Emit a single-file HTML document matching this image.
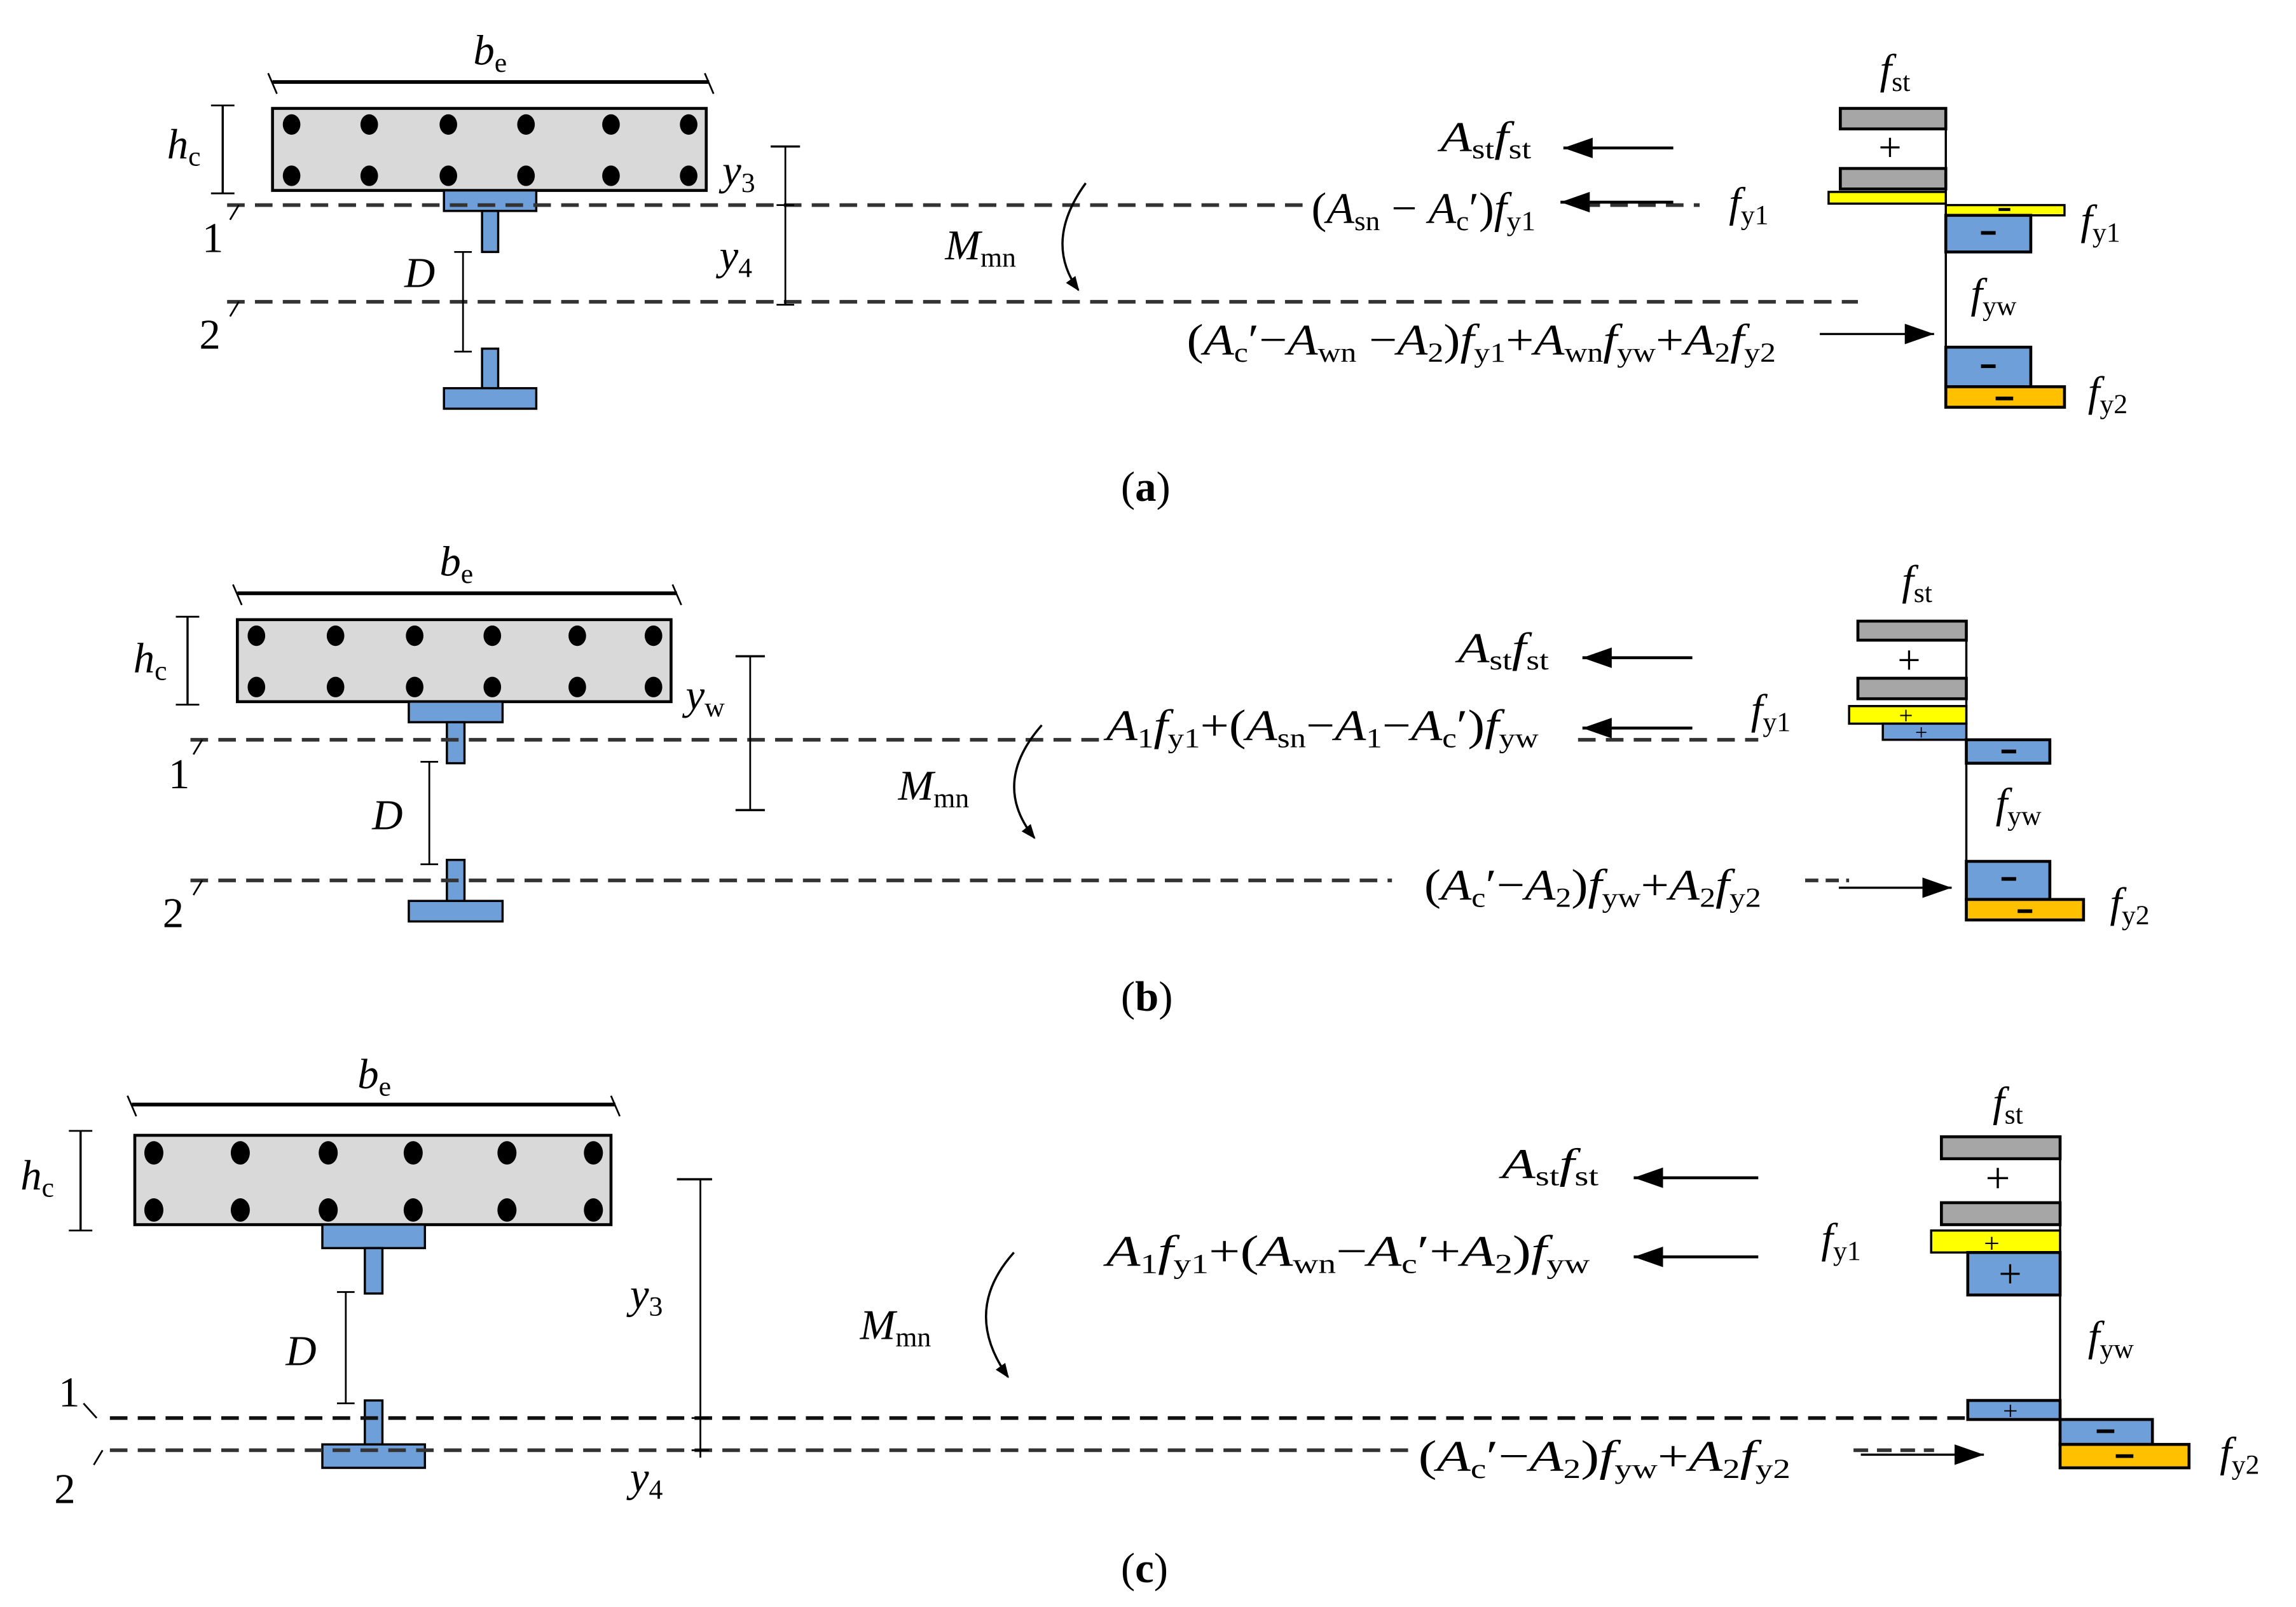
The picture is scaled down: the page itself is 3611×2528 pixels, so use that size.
<!DOCTYPE html>
<html><head><meta charset="utf-8"><style>
html,body{margin:0;padding:0;background:#fff;}
svg{display:block;}
text{font-family:"Liberation Serif",serif;font-style:italic;fill:#000;}
.s{font-style:normal;font-size:19px;}
.n{font-style:normal;}
</style></head><body>
<svg width="3611" height="2528" viewBox="0 0 1567 1097" preserveAspectRatio="none" xmlns="http://www.w3.org/2000/svg">
<defs>
<marker id="ar" markerWidth="10" markerHeight="8" refX="9" refY="4" orient="auto" markerUnits="userSpaceOnUse"><path d="M0,0 L10,4 L0,8 Z" fill="#000"/></marker>
<marker id="ar2" markerWidth="22" markerHeight="14" refX="20" refY="7" orient="auto" markerUnits="userSpaceOnUse"><path d="M0,0 L20,7 L0,14 Z" fill="#000"/></marker>
</defs>
<g font-size="29">

<!-- ================= (a) ================= -->
<line x1="186" y1="56" x2="484" y2="56" stroke="#000" stroke-width="2.5"/>
<line x1="183" y1="50" x2="189" y2="64" stroke="#000" stroke-width="1.2"/>
<line x1="481" y1="50" x2="487" y2="64" stroke="#000" stroke-width="1.2"/>
<text x="323" y="44">b<tspan class="s" dy="5">e</tspan></text>
<rect x="186" y="74" width="296" height="56" fill="#d9d9d9" stroke="#000" stroke-width="2"/>
<g fill="#000">
<ellipse cx="199" cy="85" rx="6" ry="7"/><ellipse cx="252" cy="85" rx="6" ry="7"/><ellipse cx="306" cy="85" rx="6" ry="7"/><ellipse cx="359" cy="85" rx="6" ry="7"/><ellipse cx="417" cy="85" rx="6" ry="7"/><ellipse cx="470" cy="85" rx="6" ry="7"/>
<ellipse cx="199" cy="120" rx="6" ry="7"/><ellipse cx="252" cy="120" rx="6" ry="7"/><ellipse cx="306" cy="120" rx="6" ry="7"/><ellipse cx="359" cy="120" rx="6" ry="7"/><ellipse cx="417" cy="120" rx="6" ry="7"/><ellipse cx="470" cy="120" rx="6" ry="7"/>
</g>
<line x1="152" y1="72" x2="152" y2="132" stroke="#000" stroke-width="1.5"/>
<line x1="144" y1="72" x2="160" y2="72" stroke="#000" stroke-width="1.2"/><line x1="144" y1="132" x2="160" y2="132" stroke="#000" stroke-width="1.2"/>
<text x="114" y="108">h<tspan class="s" dy="5">c</tspan></text>
<rect x="303" y="130" width="63" height="14" fill="#6f9fd8" stroke="#000" stroke-width="1.5"/>
<rect x="329" y="144" width="11" height="28" fill="#6f9fd8" stroke="#000" stroke-width="1.5"/>
<line x1="155" y1="140" x2="890" y2="140" stroke="#333" stroke-width="2.5" stroke-dasharray="12,7"/>
<line x1="1080" y1="140" x2="1160" y2="140" stroke="#333" stroke-width="2.5" stroke-dasharray="12,7"/>
<line x1="163" y1="140" x2="157" y2="150" stroke="#000" stroke-width="1.2"/>
<text x="138" y="172" class="n">1</text>
<line x1="155" y1="206" x2="1268" y2="206" stroke="#333" stroke-width="2.5" stroke-dasharray="12,7"/>
<line x1="163" y1="206" x2="157" y2="216" stroke="#000" stroke-width="1.2"/>
<text x="136" y="238" class="n">2</text>
<line x1="316" y1="172" x2="316" y2="240" stroke="#000" stroke-width="1.2"/>
<line x1="310" y1="172" x2="322" y2="172" stroke="#000" stroke-width="1.2"/><line x1="310" y1="240" x2="322" y2="240" stroke="#000" stroke-width="1.2"/>
<text x="276" y="196">D</text>
<rect x="329" y="238" width="11" height="27" fill="#6f9fd8" stroke="#000" stroke-width="1.5"/>
<rect x="303" y="265" width="63" height="14" fill="#6f9fd8" stroke="#000" stroke-width="1.5"/>
<line x1="536" y1="100" x2="536" y2="208" stroke="#000" stroke-width="1.2"/>
<line x1="526" y1="100" x2="546" y2="100" stroke="#000" stroke-width="1.5"/>
<line x1="530" y1="140" x2="542" y2="140" stroke="#000" stroke-width="1.2"/>
<line x1="530" y1="208" x2="542" y2="208" stroke="#000" stroke-width="1.2"/>
<text x="493" y="126">y<tspan class="s" dy="5">3</tspan></text>
<text x="491" y="184">y<tspan class="s" dy="5">4</tspan></text>
<text x="645" y="177">M<tspan class="s" dy="5">mn</tspan></text>
<path d="M741,125 Q712,165 736,198" fill="none" stroke="#000" stroke-width="1.5" marker-end="url(#ar)"/>
<text x="983" y="103" textLength="62" lengthAdjust="spacingAndGlyphs">A<tspan class="s" dy="5">st</tspan><tspan dy="-5">f</tspan><tspan class="s" dy="5">st</tspan></text>
<line x1="1142" y1="101" x2="1067" y2="101" stroke="#000" stroke-width="2" marker-end="url(#ar2)"/>
<text x="895" y="152" font-size="30" textLength="153" lengthAdjust="spacingAndGlyphs"><tspan class="n">(</tspan>A<tspan class="s" dy="5">sn</tspan><tspan class="n" dy="-5"> − </tspan>A<tspan class="s" dy="5">c</tspan><tspan class="n" dy="-5">′)</tspan>f<tspan class="s" dy="5">y1</tspan></text>
<line x1="1142" y1="138" x2="1065" y2="138" stroke="#000" stroke-width="2" marker-end="url(#ar2)"/>
<text x="1180" y="148">f<tspan class="s" dy="5">y1</tspan></text>
<text x="810" y="242" font-size="30" textLength="402" lengthAdjust="spacingAndGlyphs"><tspan class="n">(</tspan>A<tspan class="s" dy="5">c</tspan><tspan class="n" dy="-5">′−</tspan>A<tspan class="s" dy="5">wn</tspan><tspan class="n" dy="-5"> −</tspan>A<tspan class="s" dy="5">2</tspan><tspan class="n" dy="-5">)</tspan>f<tspan class="s" dy="5">y1</tspan><tspan class="n" dy="-5">+</tspan>A<tspan class="s" dy="5">wn</tspan><tspan dy="-5">f</tspan><tspan class="s" dy="5">yw</tspan><tspan class="n" dy="-5">+</tspan>A<tspan class="s" dy="5">2</tspan><tspan dy="-5">f</tspan><tspan class="s" dy="5">y2</tspan></text>
<line x1="1242" y1="228" x2="1320" y2="228" stroke="#000" stroke-width="1.5" marker-end="url(#ar2)"/>
<line x1="1328" y1="74" x2="1328" y2="278" stroke="#000" stroke-width="1.5"/>
<rect x="1256" y="74" width="72" height="14" fill="#a6a6a6" stroke="#000" stroke-width="2"/>
<rect x="1256" y="115" width="72" height="14" fill="#a6a6a6" stroke="#000" stroke-width="2"/>
<text x="1282" y="110" class="n" font-size="28">+</text>
<rect x="1248" y="131" width="80" height="8" fill="#ffff00" stroke="#000" stroke-width="1.5"/>
<rect x="1328" y="140" width="81" height="7" fill="#ffff00" stroke="#000" stroke-width="1.5"/>
<rect x="1328" y="147" width="58" height="25" fill="#6f9fd8" stroke="#000" stroke-width="2"/>
<line x1="1352" y1="159" x2="1362" y2="159" stroke="#000" stroke-width="2.5"/>
<line x1="1364" y1="143" x2="1372" y2="143" stroke="#000" stroke-width="2"/>
<text x="1283" y="57">f<tspan class="s" dy="5">st</tspan></text>
<text x="1420" y="160">f<tspan class="s" dy="5">y1</tspan></text>
<text x="1345" y="210">f<tspan class="s" dy="5">yw</tspan></text>
<rect x="1328" y="237" width="58" height="27" fill="#6f9fd8" stroke="#000" stroke-width="2"/>
<line x1="1352" y1="250" x2="1362" y2="250" stroke="#000" stroke-width="2.5"/>
<rect x="1328" y="264" width="81" height="14" fill="#ffc000" stroke="#000" stroke-width="2"/>
<line x1="1362" y1="272" x2="1374" y2="272" stroke="#000" stroke-width="2.5"/>
<text x="1425" y="277">f<tspan class="s" dy="5">y2</tspan></text>
<text x="765" y="342" class="n">(<tspan font-weight="bold">a</tspan>)</text>

<!-- ================= (b) ================= -->
<line x1="162" y1="405" x2="462" y2="405" stroke="#000" stroke-width="2.5"/>
<line x1="159" y1="399" x2="165" y2="413" stroke="#000" stroke-width="1.2"/>
<line x1="459" y1="399" x2="465" y2="413" stroke="#000" stroke-width="1.2"/>
<text x="300" y="393">b<tspan class="s" dy="5">e</tspan></text>
<rect x="162" y="423" width="296" height="56" fill="#d9d9d9" stroke="#000" stroke-width="2"/>
<g fill="#000">
<ellipse cx="175" cy="434" rx="6" ry="7"/><ellipse cx="229" cy="434" rx="6" ry="7"/><ellipse cx="283" cy="434" rx="6" ry="7"/><ellipse cx="336" cy="434" rx="6" ry="7"/><ellipse cx="394" cy="434" rx="6" ry="7"/><ellipse cx="446" cy="434" rx="6" ry="7"/>
<ellipse cx="175" cy="469" rx="6" ry="7"/><ellipse cx="229" cy="469" rx="6" ry="7"/><ellipse cx="283" cy="469" rx="6" ry="7"/><ellipse cx="336" cy="469" rx="6" ry="7"/><ellipse cx="394" cy="469" rx="6" ry="7"/><ellipse cx="446" cy="469" rx="6" ry="7"/>
</g>
<line x1="128" y1="421" x2="128" y2="481" stroke="#000" stroke-width="1.5"/>
<line x1="120" y1="421" x2="136" y2="421" stroke="#000" stroke-width="1.2"/><line x1="120" y1="481" x2="136" y2="481" stroke="#000" stroke-width="1.2"/>
<text x="91" y="459">h<tspan class="s" dy="5">c</tspan></text>
<rect x="279" y="479" width="64" height="14" fill="#6f9fd8" stroke="#000" stroke-width="1.5"/>
<rect x="305" y="493" width="12" height="28" fill="#6f9fd8" stroke="#000" stroke-width="1.5"/>
<line x1="130" y1="505" x2="752" y2="505" stroke="#333" stroke-width="2.5" stroke-dasharray="12,7"/>
<line x1="1077" y1="505" x2="1200" y2="505" stroke="#333" stroke-width="2.5" stroke-dasharray="12,7"/>
<line x1="138" y1="505" x2="132" y2="515" stroke="#000" stroke-width="1.2"/>
<text x="115" y="538" class="n">1</text>
<line x1="293" y1="520" x2="293" y2="590" stroke="#000" stroke-width="1.2"/>
<line x1="287" y1="520" x2="299" y2="520" stroke="#000" stroke-width="1.2"/><line x1="287" y1="590" x2="299" y2="590" stroke="#000" stroke-width="1.2"/>
<text x="254" y="566">D</text>
<rect x="305" y="587" width="12" height="28" fill="#6f9fd8" stroke="#000" stroke-width="1.5"/>
<rect x="279" y="615" width="64" height="14" fill="#6f9fd8" stroke="#000" stroke-width="1.5"/>
<line x1="130" y1="601" x2="950" y2="601" stroke="#333" stroke-width="2.5" stroke-dasharray="12,7"/>
<line x1="1232" y1="601" x2="1262" y2="601" stroke="#333" stroke-width="2.5" stroke-dasharray="9,5"/>
<line x1="138" y1="601" x2="132" y2="611" stroke="#000" stroke-width="1.2"/>
<text x="111" y="633" class="n">2</text>
<line x1="512" y1="448" x2="512" y2="553" stroke="#000" stroke-width="1.2"/>
<line x1="502" y1="448" x2="522" y2="448" stroke="#000" stroke-width="1.5"/>
<line x1="502" y1="553" x2="522" y2="553" stroke="#000" stroke-width="1.5"/>
<text x="468" y="484">y<tspan class="s" dy="5">w</tspan></text>
<text x="613" y="546">M<tspan class="s" dy="5">mn</tspan></text>
<path d="M711,495 Q676,535 706,572" fill="none" stroke="#000" stroke-width="1.5" marker-end="url(#ar)"/>
<text x="995" y="452" textLength="62" lengthAdjust="spacingAndGlyphs">A<tspan class="s" dy="5">st</tspan><tspan dy="-5">f</tspan><tspan class="s" dy="5">st</tspan></text>
<line x1="1155" y1="449" x2="1080" y2="449" stroke="#000" stroke-width="2" marker-end="url(#ar2)"/>
<text x="755" y="505" font-size="30" textLength="295" lengthAdjust="spacingAndGlyphs">A<tspan class="s" dy="5">1</tspan><tspan dy="-5">f</tspan><tspan class="s" dy="5">y1</tspan><tspan class="n" dy="-5">+(</tspan>A<tspan class="s" dy="5">sn</tspan><tspan class="n" dy="-5">−</tspan>A<tspan class="s" dy="5">1</tspan><tspan class="n" dy="-5">−</tspan>A<tspan class="s" dy="5">c</tspan><tspan class="n" dy="-5">′)</tspan>f<tspan class="s" dy="5">yw</tspan></text>
<line x1="1155" y1="497" x2="1080" y2="497" stroke="#000" stroke-width="2" marker-end="url(#ar2)"/>
<text x="1195" y="494">f<tspan class="s" dy="5">y1</tspan></text>
<text x="972" y="614" font-size="30" textLength="230" lengthAdjust="spacingAndGlyphs"><tspan class="n">(</tspan>A<tspan class="s" dy="5">c</tspan><tspan class="n" dy="-5">′−</tspan>A<tspan class="s" dy="5">2</tspan><tspan class="n" dy="-5">)</tspan>f<tspan class="s" dy="5">yw</tspan><tspan class="n" dy="-5">+</tspan>A<tspan class="s" dy="5">2</tspan><tspan dy="-5">f</tspan><tspan class="s" dy="5">y2</tspan></text>
<line x1="1255" y1="606" x2="1332" y2="606" stroke="#000" stroke-width="1.5" marker-end="url(#ar2)"/>
<line x1="1342" y1="424" x2="1342" y2="628" stroke="#000" stroke-width="1.5"/>
<rect x="1268" y="424" width="74" height="13" fill="#a6a6a6" stroke="#000" stroke-width="2"/>
<rect x="1268" y="463" width="74" height="14" fill="#a6a6a6" stroke="#000" stroke-width="2"/>
<text x="1295" y="460" class="n" font-size="28">+</text>
<rect x="1262" y="482" width="80" height="12" fill="#ffff00" stroke="#000" stroke-width="1.5"/>
<text x="1296" y="494" class="n" font-size="17">+</text>
<rect x="1285" y="494" width="57" height="11" fill="#6f9fd8" stroke="#000" stroke-width="1.5"/>
<text x="1307" y="505" class="n" font-size="15">+</text>
<rect x="1342" y="505" width="57" height="16" fill="#6f9fd8" stroke="#000" stroke-width="2"/>
<line x1="1366" y1="513" x2="1376" y2="513" stroke="#000" stroke-width="2.5"/>
<text x="1298" y="406">f<tspan class="s" dy="5">st</tspan></text>
<text x="1362" y="558">f<tspan class="s" dy="5">yw</tspan></text>
<rect x="1342" y="588" width="57" height="26" fill="#6f9fd8" stroke="#000" stroke-width="2"/>
<line x1="1366" y1="600" x2="1376" y2="600" stroke="#000" stroke-width="2.5"/>
<rect x="1342" y="614" width="80" height="14" fill="#ffc000" stroke="#000" stroke-width="2"/>
<line x1="1377" y1="622" x2="1387" y2="622" stroke="#000" stroke-width="2.5"/>
<text x="1440" y="626">f<tspan class="s" dy="5">y2</tspan></text>
<text x="765" y="690" class="n">(<tspan font-weight="bold">b</tspan>)</text>

<!-- ================= (c) ================= -->
<line x1="90" y1="754" x2="420" y2="754" stroke="#000" stroke-width="2.5"/>
<line x1="87" y1="748" x2="93" y2="762" stroke="#000" stroke-width="1.2"/>
<line x1="417" y1="748" x2="423" y2="762" stroke="#000" stroke-width="1.2"/>
<text x="244" y="743">b<tspan class="s" dy="5">e</tspan></text>
<rect x="92" y="775" width="325" height="61" fill="#d9d9d9" stroke="#000" stroke-width="2"/>
<g fill="#000">
<ellipse cx="105" cy="787" rx="6.5" ry="8"/><ellipse cx="164" cy="787" rx="6.5" ry="8"/><ellipse cx="224" cy="787" rx="6.5" ry="8"/><ellipse cx="282" cy="787" rx="6.5" ry="8"/><ellipse cx="346" cy="787" rx="6.5" ry="8"/><ellipse cx="405" cy="787" rx="6.5" ry="8"/>
<ellipse cx="105" cy="826" rx="6.5" ry="8"/><ellipse cx="164" cy="826" rx="6.5" ry="8"/><ellipse cx="224" cy="826" rx="6.5" ry="8"/><ellipse cx="282" cy="826" rx="6.5" ry="8"/><ellipse cx="346" cy="826" rx="6.5" ry="8"/><ellipse cx="405" cy="826" rx="6.5" ry="8"/>
</g>
<line x1="55" y1="772" x2="55" y2="840" stroke="#000" stroke-width="1.5"/>
<line x1="47" y1="772" x2="63" y2="772" stroke="#000" stroke-width="1.2"/><line x1="47" y1="840" x2="63" y2="840" stroke="#000" stroke-width="1.2"/>
<text x="14" y="812">h<tspan class="s" dy="5">c</tspan></text>
<rect x="220" y="836" width="70" height="16" fill="#6f9fd8" stroke="#000" stroke-width="1.5"/>
<rect x="249" y="852" width="12" height="31" fill="#6f9fd8" stroke="#000" stroke-width="1.5"/>
<line x1="236" y1="882" x2="236" y2="958" stroke="#000" stroke-width="1.2"/>
<line x1="230" y1="882" x2="242" y2="882" stroke="#000" stroke-width="1.2"/><line x1="230" y1="958" x2="242" y2="958" stroke="#000" stroke-width="1.2"/>
<text x="195" y="932">D</text>
<rect x="249" y="956" width="12" height="30" fill="#6f9fd8" stroke="#000" stroke-width="1.5"/>
<rect x="220" y="986" width="70" height="16" fill="#6f9fd8" stroke="#000" stroke-width="1.5"/>
<line x1="75" y1="968" x2="1342" y2="968" stroke="#111" stroke-width="2.5" stroke-dasharray="12,7"/>
<line x1="75" y1="990" x2="965" y2="990" stroke="#333" stroke-width="2.5" stroke-dasharray="12,7"/>
<line x1="1265" y1="990" x2="1320" y2="990" stroke="#333" stroke-width="2.5" stroke-dasharray="10,6"/>
<line x1="57" y1="958" x2="66" y2="968" stroke="#000" stroke-width="1.2"/>
<text x="40" y="960" class="n">1</text>
<line x1="70" y1="990" x2="64" y2="1000" stroke="#000" stroke-width="1.2"/>
<text x="37" y="1026" class="n">2</text>
<line x1="478" y1="805" x2="478" y2="995" stroke="#000" stroke-width="1.2"/>
<line x1="462" y1="805" x2="486" y2="805" stroke="#000" stroke-width="1.5"/>
<line x1="472" y1="968" x2="484" y2="968" stroke="#000" stroke-width="1.2"/>
<line x1="472" y1="990" x2="484" y2="990" stroke="#000" stroke-width="1.2"/>
<text x="430" y="893">y<tspan class="s" dy="5">3</tspan></text>
<text x="430" y="1018">y<tspan class="s" dy="5">4</tspan></text>
<text x="587" y="914">M<tspan class="s" dy="5">mn</tspan></text>
<path d="M692,855 Q656,895 688,940" fill="none" stroke="#000" stroke-width="1.5" marker-end="url(#ar)"/>
<text x="1025" y="804" textLength="66" lengthAdjust="spacingAndGlyphs">A<tspan class="s" dy="5">st</tspan><tspan dy="-5">f</tspan><tspan class="s" dy="5">st</tspan></text>
<line x1="1200" y1="804" x2="1115" y2="804" stroke="#000" stroke-width="2" marker-end="url(#ar2)"/>
<text x="755" y="864" font-size="30" textLength="330" lengthAdjust="spacingAndGlyphs">A<tspan class="s" dy="5">1</tspan><tspan dy="-5">f</tspan><tspan class="s" dy="5">y1</tspan><tspan class="n" dy="-5">+(</tspan>A<tspan class="s" dy="5">wn</tspan><tspan class="n" dy="-5">−</tspan>A<tspan class="s" dy="5">c</tspan><tspan class="n" dy="-5">′+</tspan>A<tspan class="s" dy="5">2</tspan><tspan class="n" dy="-5">)</tspan>f<tspan class="s" dy="5">yw</tspan></text>
<line x1="1200" y1="858" x2="1115" y2="858" stroke="#000" stroke-width="2" marker-end="url(#ar2)"/>
<text x="1243" y="855">f<tspan class="s" dy="5">y1</tspan></text>
<text x="968" y="1004" font-size="30" textLength="254" lengthAdjust="spacingAndGlyphs"><tspan class="n">(</tspan>A<tspan class="s" dy="5">c</tspan><tspan class="n" dy="-5">′−</tspan>A<tspan class="s" dy="5">2</tspan><tspan class="n" dy="-5">)</tspan>f<tspan class="s" dy="5">yw</tspan><tspan class="n" dy="-5">+</tspan>A<tspan class="s" dy="5">2</tspan><tspan dy="-5">f</tspan><tspan class="s" dy="5">y2</tspan></text>
<line x1="1270" y1="993" x2="1354" y2="993" stroke="#000" stroke-width="1.5" marker-end="url(#ar2)"/>
<line x1="1406" y1="776" x2="1406" y2="968" stroke="#000" stroke-width="1.5"/>
<rect x="1325" y="776" width="81" height="15" fill="#a6a6a6" stroke="#000" stroke-width="2"/>
<rect x="1325" y="821" width="81" height="15" fill="#a6a6a6" stroke="#000" stroke-width="2"/>
<text x="1355" y="814" class="n" font-size="30">+</text>
<rect x="1318" y="840" width="88" height="15" fill="#ffff00" stroke="#000" stroke-width="1.5"/>
<text x="1354" y="855" class="n" font-size="19">+</text>
<rect x="1343" y="855" width="63" height="29" fill="#6f9fd8" stroke="#000" stroke-width="2"/>
<text x="1364" y="879" class="n" font-size="28">+</text>
<text x="1360" y="762">f<tspan class="s" dy="5">st</tspan></text>
<text x="1425" y="922">f<tspan class="s" dy="5">yw</tspan></text>
<rect x="1343" y="956" width="63" height="13" fill="#6f9fd8" stroke="#000" stroke-width="2"/>
<text x="1367" y="969" class="n" font-size="18">+</text>
<rect x="1406" y="969" width="63" height="17" fill="#6f9fd8" stroke="#000" stroke-width="2"/>
<line x1="1431" y1="977" x2="1443" y2="977" stroke="#000" stroke-width="2.5"/>
<rect x="1406" y="986" width="88" height="16" fill="#ffc000" stroke="#000" stroke-width="2"/>
<line x1="1444" y1="994" x2="1456" y2="994" stroke="#000" stroke-width="2.5"/>
<text x="1515" y="1001">f<tspan class="s" dy="5">y2</tspan></text>
<text x="765" y="1080" class="n">(<tspan font-weight="bold">c</tspan>)</text>
</g>
</svg>
</body></html>
